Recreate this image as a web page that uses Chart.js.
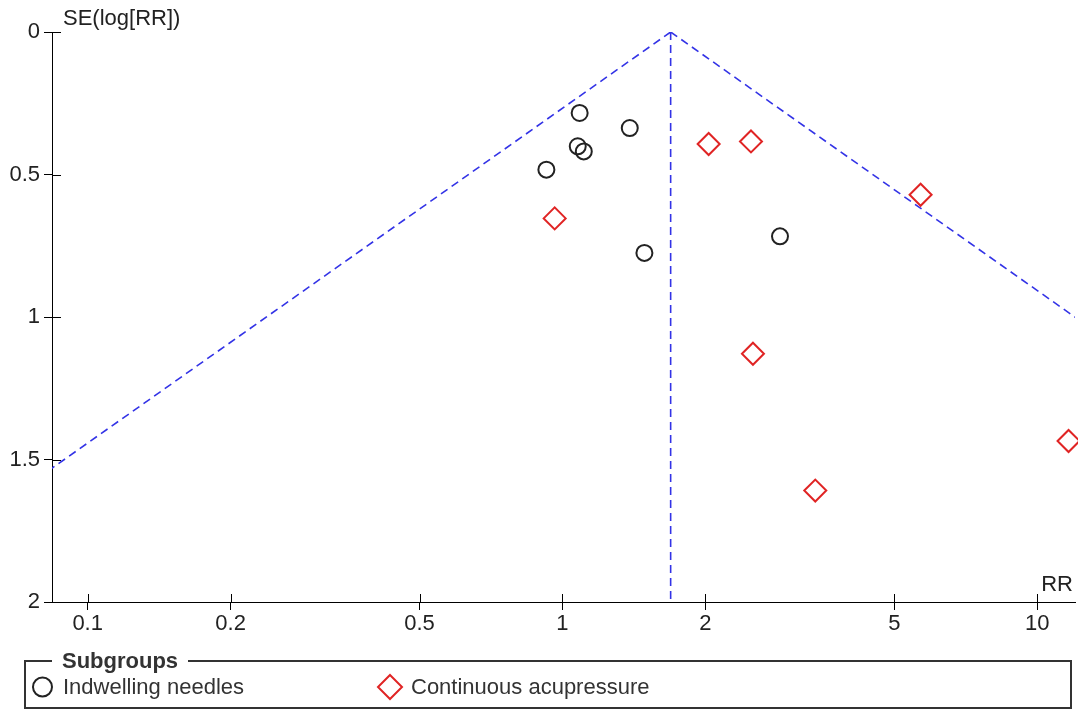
<!DOCTYPE html>
<html>
<head>
<meta charset="utf-8">
<script src="https://cdn.jsdelivr.net/npm/chart.js@4"></script>
<style>
  html, body { margin: 0; padding: 0; background: #fff; }
  #wrap { position: relative; width: 1078px; height: 711px; }
  #funnel { position: absolute; left: 0; top: 0; }
  #legendBox {
    position: absolute; left: 24px; top: 660px; width: 1044px; height: 45px;
    border: 2px solid #333; font-family: "Liberation Sans", Arial, sans-serif; font-size: 22px; color: #333;
  }
  #legendBox .title {
    position: absolute; left: 26px; top: -12px; line-height: 22px; padding: 0 10px;
    background: #fff; font-weight: bold;
  }
  #legendBox .item { position: absolute; top: 13px; line-height: 24px; white-space: nowrap; }
  #legendBox svg { position: absolute; top: 0; }
</style>
</head>
<body>
<div id="wrap">
  <canvas id="funnel" width="1078" height="711"></canvas>
  <div id="legendBox">
    <span class="title">Subgroups</span>
    <svg width="400" height="45">
      <circle cx="16.5" cy="25" r="9.5" fill="none" stroke="#222" stroke-width="2"/>
      <polygon points="364,13 376,25 364,37 352,25" fill="none" stroke="#e02424" stroke-width="2"/>
    </svg>
    <span class="item" style="left:37px">Indwelling needles</span>
    <span class="item" style="left:385px">Continuous acupressure</span>
  </div>
</div>
<script>
// axis ticks
const rrTicks = [0.1, 0.2, 0.5, 1, 2, 5, 10];
const rrTickLabels = ['0.1', '0.2', '0.5', '1', '2', '5', '10'];
const seTicks = [0, 0.5, 1, 1.5, 2];
const seTickLabels = ['0', '0.5', '1', '1.5', '2'];

// studies (RR, SE(log RR))
const needlesRR = [1.087, 1.386, 1.077, 1.109, 0.925, 1.488, 2.872];
const needlesSE = [0.284, 0.337, 0.401, 0.419, 0.483, 0.775, 0.717];
const acuRR = [0.963, 2.032, 2.495, 5.68, 2.519, 3.408, 11.64];
const acuSE = [0.654, 0.393, 0.384, 0.571, 1.129, 1.609, 1.435];

// pooled estimate and funnel limits (endpoints at SE = 0 and SE = 2)
const pooledRR = [1.69, 1.69];
const funnelLeftRR = [1.69, 0.0335];
const funnelRightRR = [1.69, 85.2];
const funnelSE = [0, 2];

const toPts = (xs, ys) => xs.map((x, i) => ({ x: x, y: ys[i] }));

const dashBlue = '#3333e6';
const lineStyle = {
  showLine: true, pointRadius: 0, borderColor: dashBlue, borderWidth: 1.6,
  borderDash: [8, 5], fill: false, order: 3
};

// crossing tick marks + axis titles
const extras = {
  id: 'extras',
  afterDraw(chart) {
    const ctx = chart.ctx;
    const xs = chart.scales.x, ys = chart.scales.y;
    const a = chart.chartArea;
    ctx.save();
    ctx.strokeStyle = '#000';
    ctx.lineWidth = 1;
    ctx.beginPath();
    rrTicks.forEach(v => {
      const px = Math.round(xs.getPixelForValue(v)) + 0.5;
      ctx.moveTo(px, a.bottom - 8);
      ctx.lineTo(px, a.bottom);
    });
    seTicks.forEach(v => {
      const py = Math.round(ys.getPixelForValue(v)) + 0.5;
      ctx.moveTo(a.left, py);
      ctx.lineTo(a.left + 9, py);
    });
    ctx.stroke();
    ctx.fillStyle = '#222';
    ctx.font = '22px "Liberation Sans", Arial, sans-serif';
    ctx.textBaseline = 'middle';
    ctx.textAlign = 'left';
    ctx.fillText('SE(log[RR])', 63, 19);
    ctx.textAlign = 'right';
    ctx.fillText('RR', 1073, 585);
    ctx.restore();
  }
};

Chart.defaults.font.family = '"Liberation Sans", Arial, sans-serif';
Chart.defaults.font.size = 22;
Chart.defaults.color = '#222';

new Chart(document.getElementById('funnel'), {
  type: 'scatter',
  data: {
    datasets: [
      {
        label: 'Indwelling needles',
        data: toPts(needlesRR, needlesSE),
        pointStyle: 'circle', pointRadius: 8, borderWidth: 2,
        borderColor: '#222', backgroundColor: 'rgba(0,0,0,0)',
        clip: false, order: 1
      },
      {
        label: 'Continuous acupressure',
        data: toPts(acuRR, acuSE),
        pointStyle: 'rectRot', pointRadius: 11, borderWidth: 2,
        borderColor: '#e02424', backgroundColor: 'rgba(0,0,0,0)',
        clip: false, order: 1
      },
      Object.assign({ label: 'pooled', data: toPts(pooledRR, funnelSE) }, lineStyle),
      Object.assign({ label: 'left', data: toPts(funnelLeftRR, funnelSE) }, lineStyle),
      Object.assign({ label: 'right', data: toPts(funnelRightRR, funnelSE) }, lineStyle)
    ]
  },
  options: {
    responsive: false,
    animation: false,
    layout: { autoPadding: false, padding: { top: 32, right: 3, left: 0, bottom: 0 } },
    plugins: {
      legend: { display: false },
      tooltip: { enabled: false }
    },
    events: [],
    scales: {
      x: {
        type: 'logarithmic',
        min: 0.08411,
        max: 12.01,
        afterBuildTicks: s => { s.ticks = rrTicks.map(v => ({ value: v })); },
        afterFit: s => { s.height = 109; s.paddingLeft = 0; s.paddingRight = 0; },
        ticks: {
          padding: 1,
          maxRotation: 0,
          autoSkip: false,
          callback: (v, i) => rrTickLabels[i]
        },
        grid: { drawOnChartArea: false, tickLength: 8, color: '#000' },
        border: { color: '#000', width: 1 }
      },
      y: {
        type: 'linear',
        reverse: true,
        min: 0,
        max: 2,
        afterBuildTicks: s => { s.ticks = seTicks.map(v => ({ value: v })); },
        afterFit: s => { s.width = 52; s.paddingTop = 0; s.paddingBottom = 0; },
        ticks: {
          padding: 4,
          autoSkip: false,
          callback: (v, i) => seTickLabels[i]
        },
        grid: { drawOnChartArea: false, tickLength: 8, color: '#000' },
        border: { color: '#000', width: 1 }
      }
    }
  },
  plugins: [extras]
});
</script>
</body>
</html>
